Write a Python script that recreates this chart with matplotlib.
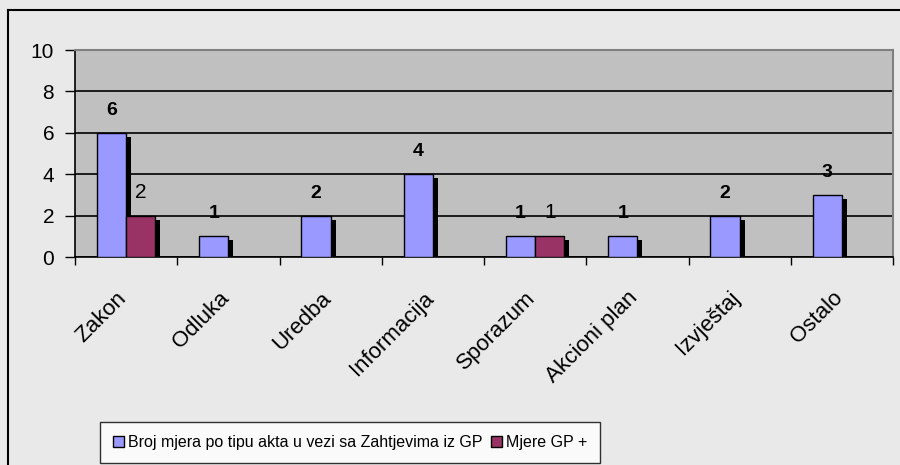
import numpy as np
import matplotlib.pyplot as plt
import matplotlib.transforms as mtransforms
from matplotlib import font_manager
from matplotlib.lines import Line2D
from matplotlib.patches import Patch

# data
categories = ['Zakon', 'Odluka', 'Uredba', 'Informacija', 'Sporazum',
              'Akcioni plan', 'Izvještaj', 'Ostalo']
broj_mjera = [6, 1, 2, 4, 1, 1, 2, 3]
mjere_gp = [2, 0, 0, 0, 1, 0, 0, 0]
label_broj = 'Broj mjera po tipu akta u vezi sa Zahtjevima iz GP'
label_gp = 'Mjere GP +'

blue = '#9999ff'
purple = '#993366'

plt.rcParams['font.family'] = ['Liberation Sans', 'DejaVu Sans']

# legend text in the original is a narrow face
installed = {f.name for f in font_manager.fontManager.ttflist}
if 'Liberation Sans Narrow' in installed:
    leg_font = {'family': 'Liberation Sans Narrow', 'size': 14}
else:
    leg_font = {'family': 'Liberation Sans', 'size': 11.5}

fig = plt.figure(figsize=(9, 4.65), dpi=100)
fig.patch.set_facecolor('#e9e9e9')
ax = fig.add_axes([75 / 900, 1 - 257 / 465, 818 / 900, 207 / 465])
ax.set_facecolor('#c0c0c0')

x = np.arange(len(categories))
w = 0.285
sx, sy = 0.05, 0.2  # shadow offset

for i, v in enumerate(broj_mjera):
    xb = x[i] - w / 2
    ax.bar(xb + sx, max(v - sy, 0), w, color='black', zorder=2)
    ax.bar(xb, v, w, color=blue, edgecolor='black', linewidth=1, zorder=3)
    ax.annotate(str(v), (xb, v), xytext=(0, 13), textcoords='offset points',
                ha='center', va='baseline', fontsize=14, fontweight='bold')
for i, v in enumerate(mjere_gp):
    if v == 0:
        continue
    xb = x[i] + w / 2
    ax.bar(xb + sx, max(v - sy, 0), w, color='black', zorder=2)
    ax.bar(xb, v, w, color=purple, edgecolor='black', linewidth=1, zorder=3)
    ax.annotate(str(v), (xb, v), xytext=(0, 13), textcoords='offset points',
                ha='center', va='baseline', fontsize=15)

ax.set_xlim(-0.5, len(categories) - 0.5)
ax.set_ylim(0, 10)
ax.set_yticks(range(0, 11, 2))
ax.yaxis.grid(True, color='black', linewidth=1.2)
ax.set_axisbelow(True)
ax.tick_params(axis='y', labelsize=15, length=7, width=1, direction='out', pad=8)

ax.set_xticks(x)
ax.set_xticklabels(categories, rotation=45, ha='right', va='top',
                   rotation_mode='anchor', fontsize=16)
ax.set_xticks(np.arange(-0.5, len(categories)), minor=True)
ax.tick_params(axis='x', which='major', length=0, pad=22)
ax.tick_params(axis='x', which='minor', length=6, width=1, direction='out')
shift = mtransforms.ScaledTranslation(-10 / 100, 0, fig.dpi_scale_trans)
for lab in ax.get_xticklabels():
    lab.set_transform(lab.get_transform() + shift)

for s in ['top', 'right']:
    ax.spines[s].set_color('#808080')
    ax.spines[s].set_linewidth(1.5)
for s in ['left', 'bottom']:
    ax.spines[s].set_color('black')
    ax.spines[s].set_linewidth(1.2)

handles = [Patch(facecolor=blue, edgecolor='black', label=label_broj),
           Patch(facecolor=purple, edgecolor='black', label=label_gp)]
leg = fig.legend(handles=handles, loc='lower center', ncol=2,
                 bbox_to_anchor=(350 / 900, 2 / 465), prop=leg_font,
                 frameon=True, fancybox=False, edgecolor='black',
                 handlelength=0.7, handleheight=0.7, handletextpad=0.25,
                 columnspacing=0.5, borderpad=0.8, borderaxespad=0)
leg.get_frame().set_linewidth(1)

# outer chart border
fig.add_artist(Line2D([8 / 900, 1], [1 - 10 / 465] * 2, color='black', lw=1.5))
fig.add_artist(Line2D([8 / 900] * 2, [0, 1 - 10 / 465], color='black', lw=1.5))

fig.savefig('out.png', dpi=100, facecolor=fig.get_facecolor())
